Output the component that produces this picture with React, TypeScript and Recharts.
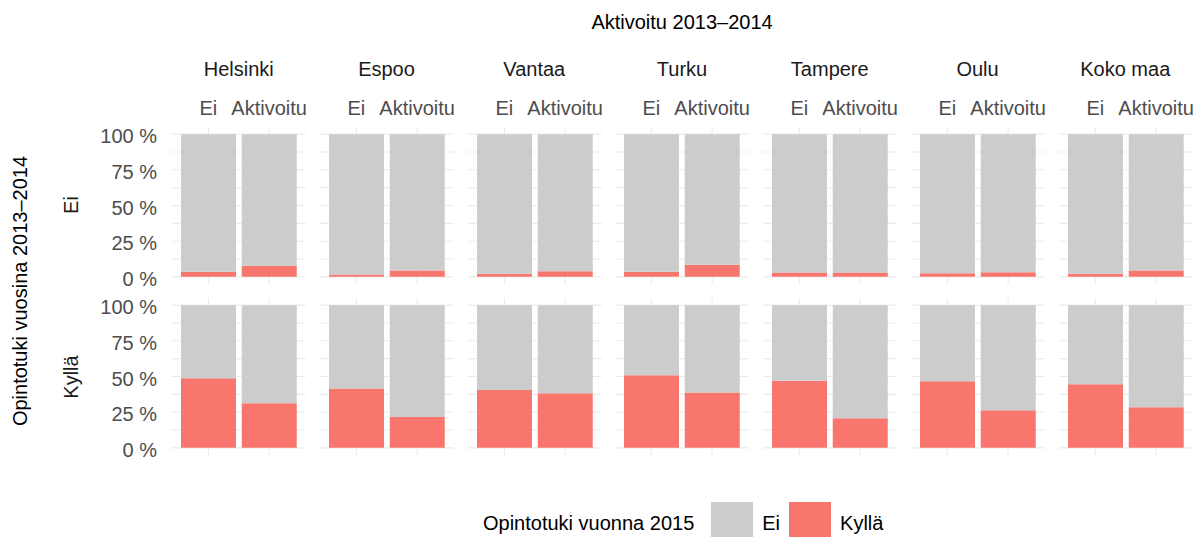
import React from "react";
import { BarChart, Bar, XAxis, YAxis, CartesianGrid } from "recharts";

const cities = ["Helsinki", "Espoo", "Vantaa", "Turku", "Tampere", "Oulu", "Koko maa"];
const activated = ["Ei", "Aktivoitu"];
const supportRows = ["Ei", "Kyllä"];
const yTicks = [0, 12.5, 25, 37.5, 50, 62.5, 75, 87.5, 100];

// rivi "Ei": ei opintotukea 2013–2014, osuudet (%) [Ei aktivoitu, Aktivoitu]
const kyllaNoSupport = [
  [3.5, 7.7],
  [1.7, 4.5],
  [2.1, 4.0],
  [3.5, 8.4],
  [3.1, 3.1],
  [2.6, 3.3],
  [2.1, 4.5],
];
const eiNoSupport = [
  [96.5, 92.3],
  [98.3, 95.5],
  [97.9, 96.0],
  [96.5, 91.6],
  [96.9, 96.9],
  [97.4, 96.7],
  [97.9, 95.5],
];

// rivi "Kyllä": opintotukea 2013–2014
const kyllaSupport = [
  [48.8, 31.3],
  [41.6, 21.7],
  [40.6, 38.3],
  [50.9, 38.8],
  [47.0, 20.8],
  [46.7, 26.4],
  [44.6, 28.5],
];
const eiSupport = [
  [51.2, 68.7],
  [58.4, 78.3],
  [59.4, 61.7],
  [49.1, 61.2],
  [53.0, 79.2],
  [53.3, 73.6],
  [55.4, 71.5],
];

const legendItems = ["Ei", "Kyllä"];
const colors: Record<string, string> = { Ei: "#CCCCCC", Kyllä: "#F8766D" };

const kyllaRows = [kyllaNoSupport, kyllaSupport];
const eiRows = [eiNoSupport, eiSupport];

const PANEL_X0 = 172;
const STEP = 147.75;
const PANEL_W = 133.5;
const PANEL_H = 157;
const ROW_Y = [126.7, 298];
const X_AXIS_H = 30;

const tickStyle = { fill: "#4D4D4D", fontSize: 20 };

function Panel({ row, col }: { row: number; col: number }) {
  const showY = col === 0;
  const showX = row === 0;
  const yW = showY ? PANEL_X0 : 0;
  const xH = showX ? X_AXIS_H : 0;
  const data = activated.map((a, i) => ({
    name: a,
    kylla: kyllaRows[row][col][i],
    ei: eiRows[row][col][i],
  }));
  return (
    <div style={{ position: "absolute", left: PANEL_X0 + col * STEP - yW, top: ROW_Y[row] - xH }}>
      <BarChart
        width={PANEL_W + yW}
        height={PANEL_H + xH}
        data={data}
        margin={{ top: 0, right: 0, bottom: 0, left: 0 }}
        barSize={55}
      >
        <CartesianGrid stroke="#EBEBEB" strokeWidth={1.1} syncWithTicks />
        <XAxis
          dataKey="name"
          orientation="top"
          hide={!showX}
          height={xH}
          padding={{ left: 6, right: 6 }}
          tickLine={false}
          axisLine={false}
          tickSize={0}
          tickMargin={12}
          tick={tickStyle}
          interval={0}
        />
        <YAxis
          type="number"
          domain={[-5, 105]}
          allowDataOverflow
          ticks={yTicks}
          hide={!showY}
          width={yW}
          tickLine={false}
          axisLine={false}
          tickSize={0}
          tickMargin={15}
          tick={{ ...tickStyle, dy: 2 }}
          interval={0}
          tickFormatter={(v: number) => (v % 25 === 0 ? `${v} %` : "")}
        />
        <Bar dataKey="kylla" stackId="s" fill={colors["Kyllä"]} isAnimationActive={false} />
        <Bar dataKey="ei" stackId="s" fill={colors["Ei"]} isAnimationActive={false} />
      </BarChart>
    </div>
  );
}

const label = (text: string, x: number, y: number, extra: React.CSSProperties = {}) => (
  <div
    key={text + x + y}
    style={{
      position: "absolute",
      left: x,
      top: y,
      transform: "translate(-50%, -50%)",
      whiteSpace: "nowrap",
      lineHeight: 1,
      fontSize: 20,
      color: "#1A1A1A",
      ...extra,
    }}
  >
    {text}
  </div>
);

export default function App() {
  return (
    <div
      style={{
        position: "absolute",
        left: 0,
        top: 0,
        width: 1195,
        height: 537,
        overflow: "hidden",
        background: "#fff",
        fontFamily: "'Liberation Sans', Arial, sans-serif",
      }}
    >
      <style>{`.recharts-surface { overflow: visible; }`}</style>
      {label("Aktivoitu 2013–2014", 682, 22, { color: "#000" })}
      {cities.map((c, i) => label(c, PANEL_X0 + i * STEP + PANEL_W / 2, 69))}
      {supportRows.map((r, i) =>
        label(r, 71, ROW_Y[i] + PANEL_H / 2, { transform: "translate(-50%, -50%) rotate(-90deg)" })
      )}
      {label("Opintotuki vuosina 2013–2014", 19.5, 291, {
        color: "#000",
        transform: "translate(-50%, -50%) rotate(-90deg)",
      })}
      {[0, 1].map((row) => cities.map((_, col) => <Panel key={`${row}-${col}`} row={row} col={col} />))}

      <div
        style={{
          position: "absolute",
          left: 483,
          top: 502,
          height: 42,
          display: "flex",
          alignItems: "center",
          fontSize: 20,
          color: "#000",
          whiteSpace: "nowrap",
        }}
      >
        <span style={{ marginRight: 17 }}>Opintotuki vuonna 2015</span>
        {legendItems.map((item) => (
          <React.Fragment key={item}>
            <span style={{ display: "inline-block", width: 42, height: 42, background: colors[item] }} />
            <span style={{ marginLeft: 9, marginRight: 9 }}>{item}</span>
          </React.Fragment>
        ))}
      </div>
    </div>
  );
}
